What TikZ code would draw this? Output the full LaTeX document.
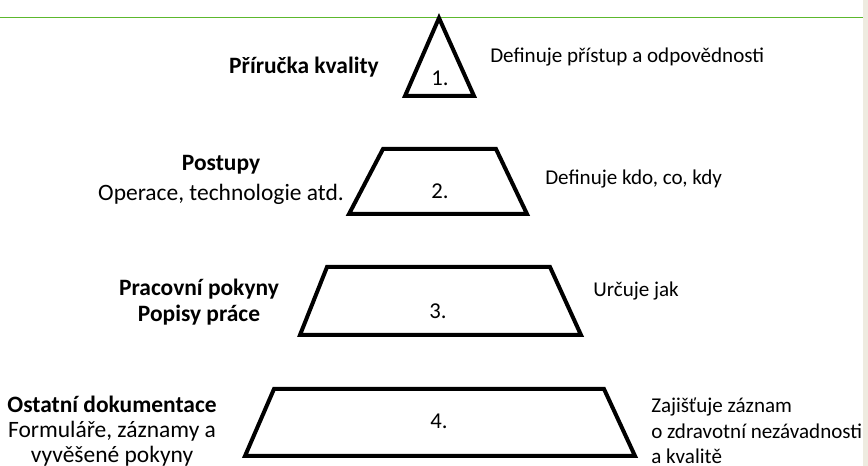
\documentclass[tikz,border=0pt]{standalone}
\usepackage{fontspec}
\setmainfont{Carlito}
\begin{document}
\begin{tikzpicture}[x=0.75pt,y=-0.75pt,
  shapeline/.style={line width=3pt,line join=miter,black},
  txt/.style={inner sep=0pt},
  lefttxt/.style={txt,align=center,font=\fontsize{17.6}{19}\selectfont},
  righttxt/.style={txt,anchor=west,align=left,font=\fontsize{15.8}{19}\selectfont},
  numtxt/.style={txt,font=\fontsize{17}{20}\selectfont}]
\useasboundingbox (0,0) rectangle (868,466);
\fill[white] (0,0) rectangle (868,466);
\fill[fill={rgb,255:red,238;green,235;blue,224}] (863,0) rectangle (868,466);
\draw[line width=1.2pt,color={rgb,255:red,92;green,184;blue,45}] (0,17.5) -- (863,17.5);
% level 1
\draw[shapeline] (439,18) -- (474,96) -- (405,96) -- cycle;
\node[numtxt] (n1) at (440,78) {1.};
% level 2
\draw[shapeline] (383,149) -- (496,149) -- (527,214) -- (349,214) -- cycle;
\node[numtxt] (n2) at (440,191) {2.};
% level 3
\draw[shapeline] (327,267) -- (550,267) -- (581,335) -- (300,335) -- cycle;
\node[numtxt] (n3) at (438,311) {3.};
% level 4
\draw[shapeline] (274,389) -- (604,389) -- (635,456) -- (245,456) -- cycle;
\node[numtxt] (n4) at (439,421) {4.};
% left texts
\node[lefttxt] (l1) at (304,67) {\textbf{Příručka kvality}};
\node[lefttxt] (l2) at (221,180) {\textbf{Postupy}\\[3pt]Operace, technologie atd.};
\node[lefttxt] (l3) at (199,302) {\textbf{Pracovní pokyny}\\\textbf{Popisy práce}};
\node[lefttxt] (l4) at (112,431) {\textbf{Ostatní dokumentace}\\Formuláře, záznamy a\\vyvěšené pokyny};
% right texts
\node[righttxt] (r1) at (490,57) {Definuje přístup a odpovědnosti};
\node[righttxt] (r2) at (545,179) {Definuje kdo, co, kdy};
\node[righttxt] (r3) at (593,291) {Určuje jak};
\node[righttxt] (r4) at (651,431) {Zajišťuje záznam\\o zdravotní nezávadnosti\\a kvalitě};
\end{tikzpicture}
\end{document}
